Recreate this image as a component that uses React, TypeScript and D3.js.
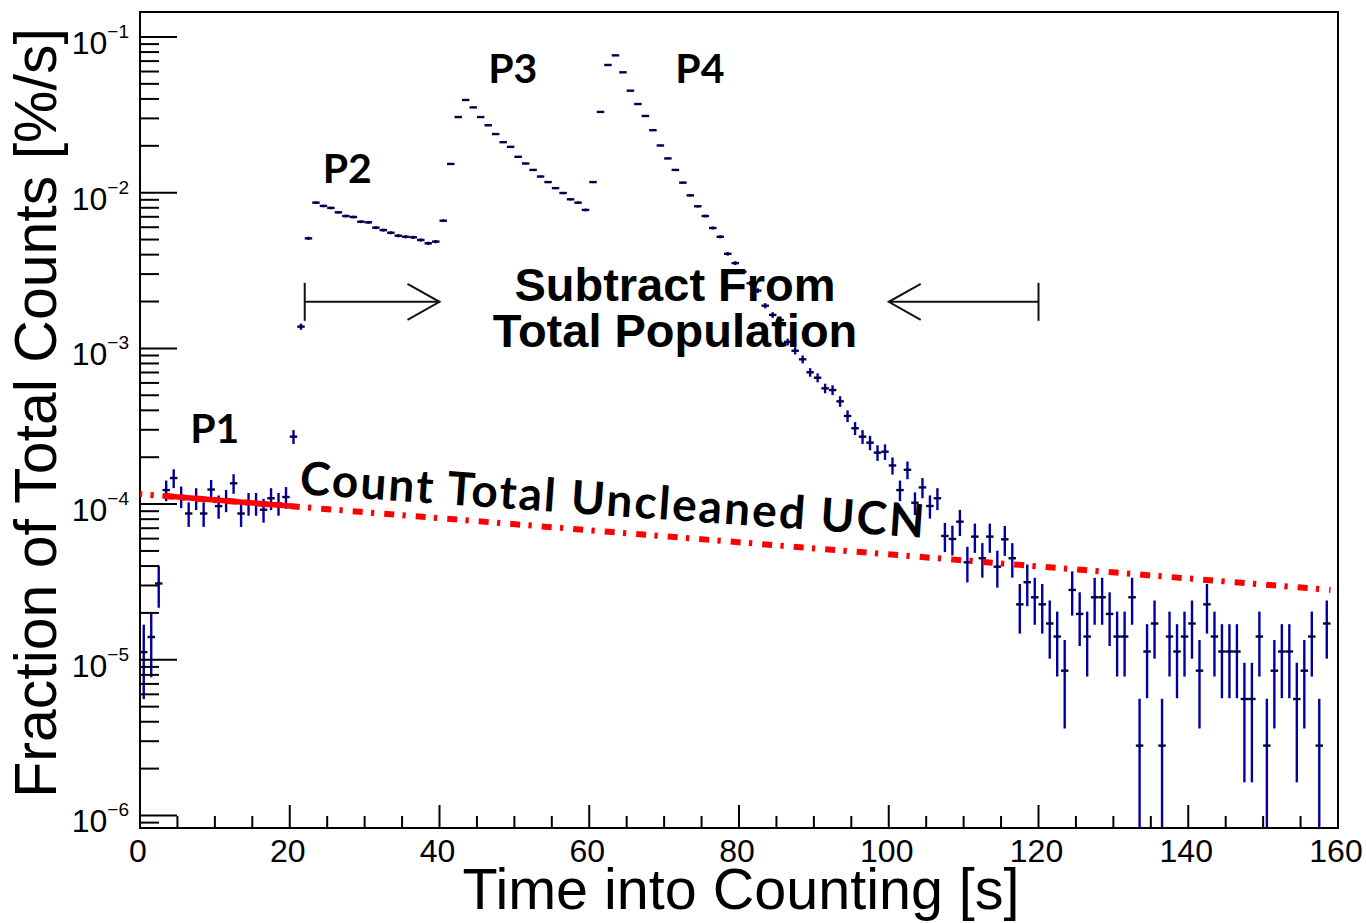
import React from 'react';
import * as d3 from 'd3';

// ---------- data ----------
// Fraction of total counts [%/s] in 1-s bins, bin k covers [k, k+1) s; null = empty bin
const RATE: (number | null)[] = [
  1.12e-5, 1.40e-5, 3.09e-5, 1.23e-4, 1.47e-4, 1.12e-4, 8.7e-5, 1.09e-4, 8.7e-5, 1.24e-4,
  9.7e-5, 1.06e-4, 1.36e-4, 8.7e-5, 1.01e-4, 1.01e-4, 9.2e-5, 1.09e-4, 1.01e-4, 1.11e-4,
  2.71e-4, 1.38e-3, 5.09e-3, 8.63e-3, 8.22e-3, 7.98e-3, 7.48e-3, 7.08e-3, 6.98e-3, 6.51e-3,
  6.45e-3, 5.96e-3, 5.75e-3, 5.53e-3, 5.29e-3, 5.21e-3, 5.17e-3, 4.97e-3, 4.73e-3, 4.85e-3,
  6.61e-3, 1.53e-2, 3.06e-2, 3.94e-2, 3.53e-2, 3.06e-2, 2.71e-2, 2.38e-2, 2.11e-2, 1.97e-2,
  1.70e-2, 1.54e-2, 1.40e-2, 1.27e-2, 1.17e-2, 1.07e-2, 9.95e-3, 9.07e-3, 8.63e-3, 7.75e-3,
  1.17e-2, 3.30e-2, 6.61e-2, 7.62e-2, 5.93e-2, 4.52e-2, 3.71e-2, 3.11e-2, 2.52e-2, 2.01e-2,
  1.66e-2, 1.40e-2, 1.16e-2, 9.61e-3, 8.18e-3, 7.08e-3, 5.93e-3, 5.21e-3, 4.05e-3, 3.53e-3,
  3.11e-3, 2.62e-3, 2.35e-3, 1.88e-3, 1.64e-3, 1.52e-3, 1.10e-3, 9.66e-4, 8.51e-4, 7.02e-4,
  6.48e-4, 5.54e-4, 5.40e-4, 4.57e-4, 3.68e-4, 3.07e-4, 2.71e-4, 2.48e-4, 2.14e-4, 2.17e-4,
  1.77e-4, 1.23e-4, 1.66e-4, 1.02e-4, 1.28e-4, 9.72e-5, 1.09e-4, 6.24e-5, 5.97e-5, 7.71e-5,
  4.23e-5, 6.18e-5, 4.49e-5, 6.18e-5, 3.96e-5, 5.94e-5, 4.49e-5, 2.27e-5, 3.15e-5, 2.52e-5,
  2.27e-5, 1.71e-5, 1.41e-5, 8.51e-6, 2.81e-5, 1.97e-5, 1.41e-5, 2.52e-5, 2.52e-5, 1.97e-5,
  1.41e-5, 1.41e-5, 2.52e-5, 2.81e-6, 1.13e-5, 1.71e-5, 2.81e-6, 1.41e-5, 1.13e-5, 1.41e-5,
  1.71e-5, 8.51e-6, 2.27e-5, 1.41e-5, 1.13e-5, 1.13e-5, 1.13e-5, 5.6e-6, 5.6e-6, 1.41e-5,
  2.81e-6, 8.51e-6, 1.13e-5, 1.13e-5, 5.6e-6, 8.51e-6, 1.41e-5, 2.81e-6, 1.71e-5, null,
];
const BIN_WIDTH = 1; // s
const COUNT_UNIT = 2.81e-6; // value of a single count -> Poisson errors

const X_MAJOR = [0, 20, 40, 60, 80, 100, 120, 140, 160];
const X_MINOR_STEP = 5;
const Y_EXPONENTS = [-1, -2, -3, -4, -5, -6];
const X_DOMAIN: [number, number] = [0, 160];
const Y_DOMAIN: [number, number] = [8.31e-7, 0.1447];

// uncleaned-UCN estimate (red): dashed extrapolation and solid fitted part
const FIT_T = [0, 159];
const FIT_V = [1.16e-4, 2.81e-5];
const FIT_SOLID_T = [3, 20];
const FIT_SOLID_V = [1.13e-4, 9.71e-5];

// "subtract" arrows: from bar (t0) to tip (t1), at value v
const ARROWS = [
  { t0: 22, t1: 40, v: 1.99e-3 },
  { t0: 120, t1: 100, v: 1.99e-3 },
];
const PEAK_LABELS = [
  { text: 'P1', t: 6.7, v: 2.47e-4 },
  { text: 'P2', t: 24.4, v: 1.153e-2 },
  { text: 'P3', t: 46.5, v: 5.07e-2 },
  { text: 'P4', t: 71.5, v: 5.07e-2 },
];

const W = 1366;
const H = 923;
const M = { left: 140, right: 1338, top: 12, bottom: 828 };

export default function App() {
  const x = d3.scaleLinear().domain(X_DOMAIN).range([M.left, M.right]);
  const y = d3.scaleLog().domain(Y_DOMAIN).range([M.bottom, M.top]);

  const pts = RATE.map((v, k) =>
    v == null ? null : { t: k * BIN_WIDTH + BIN_WIDTH / 2, v, e: Math.sqrt(v * COUNT_UNIT) }
  ).filter((d): d is { t: number; v: number; e: number } => d !== null);

  const yMinor: number[] = [];
  for (let d = -7; d <= 0; d++) {
    for (let m = 2; m <= 9; m++) {
      const v = m * Math.pow(10, d);
      if (v >= Y_DOMAIN[0] && v <= Y_DOMAIN[1]) yMinor.push(v);
    }
  }
  const xMinor = d3.range(X_DOMAIN[0], X_DOMAIN[1] + 0.001, X_MINOR_STEP).filter((t) => t % 20 !== 0);

  const line = d3.line<[number, number]>().x((d) => x(d[0])).y((d) => y(d[1]));
  const fitPath = line(FIT_T.map((t, i) => [t, FIT_V[i]]) as [number, number][]) || '';
  const fitSolidPath = line(FIT_SOLID_T.map((t, i) => [t, FIT_SOLID_V[i]]) as [number, number][]) || '';

  const yClamp = (v: number) => (v <= Y_DOMAIN[0] ? M.bottom : y(v));

  return (
    <svg
      width={W}
      height={H}
      style={{ position: 'absolute', left: 0, top: 0, background: '#fff' }}
      fontFamily="'Liberation Sans', Arial, Helvetica, sans-serif"
    >
      <defs>
        <clipPath id="plot">
          <rect x={M.left} y={M.top} width={M.right - M.left} height={M.bottom - M.top} />
        </clipPath>
      </defs>
      <rect x={0} y={0} width={W} height={H} fill="#fff" />

      {/* data points */}
      <g clipPath="url(#plot)">
        {pts.map((d, i) => {
          const cx = x(d.t);
          const cy = y(d.v);
          const lo = yClamp(d.v - d.e);
          const hi = y(d.v + d.e);
          return (
            <g key={i}>
              <line x1={cx} x2={cx} y1={hi} y2={lo} stroke="#0000a0" strokeWidth={2.4} />
              <line
                x1={x(d.t - BIN_WIDTH / 2)}
                x2={x(d.t + BIN_WIDTH / 2)}
                y1={cy}
                y2={cy}
                stroke="#00004a"
                strokeWidth={2.4}
              />
            </g>
          );
        })}
      </g>

      {/* frame */}
      <rect
        x={M.left}
        y={M.top}
        width={M.right - M.left}
        height={M.bottom - M.top}
        fill="none"
        stroke="#000"
        strokeWidth={2}
      />

      {/* x ticks */}
      {X_MAJOR.map((t) => (
        <g key={'xm' + t}>
          <line x1={x(t)} x2={x(t)} y1={M.bottom} y2={M.bottom - 23} stroke="#000" strokeWidth={2} />
          <text x={x(t) - 2} y={862} fontSize={32} textAnchor="middle" fill="#000">
            {t}
          </text>
        </g>
      ))}
      {xMinor.map((t) => (
        <line key={'xn' + t} x1={x(t)} x2={x(t)} y1={M.bottom} y2={M.bottom - 12} stroke="#000" strokeWidth={2} />
      ))}

      {/* y ticks */}
      {Y_EXPONENTS.map((e) => {
        const v = Math.pow(10, e);
        const py = y(v);
        return (
          <g key={'ym' + e}>
            <line x1={M.left} x2={M.left + 37} y1={py} y2={py} stroke="#000" strokeWidth={2} />
            <text x={129} y={py + 17} fontSize={32} textAnchor="end" fill="#000">
              10
              <tspan fontSize={19} dy={-16}>
                {'\u2212' + Math.abs(e)}
              </tspan>
            </text>
          </g>
        );
      })}
      {yMinor.map((v, i) => (
        <line key={'yn' + i} x1={M.left} x2={M.left + 19} y1={y(v)} y2={y(v)} stroke="#000" strokeWidth={2} />
      ))}

      {/* axis titles */}
      <text x={741} y={909} fontSize={57.5} textAnchor="middle" fill="#000">
        Time into Counting [s]
      </text>
      <text transform="translate(56,413) rotate(-90)" fontSize={59} textAnchor="middle" fill="#000">
        Fraction of Total Counts [%/s]
      </text>

      {/* red uncleaned estimate */}
      <path d={fitSolidPath} stroke="#ff0000" strokeWidth={5.5} fill="none" />
      <path
        d={fitPath}
        stroke="#ff0000"
        strokeWidth={6}
        fill="none"
        strokeDasharray="10 8.3 3.3 10"
        strokeDashoffset={7.8}
      />

      {/* arrows */}
      {ARROWS.map((a, i) => {
        const x0 = x(a.t0);
        const x1 = x(a.t1);
        const py = y(a.v);
        const dir = Math.sign(x1 - x0);
        return (
          <g key={'ar' + i} stroke="#111" strokeWidth={2} fill="none">
            <line x1={x0} x2={x0} y1={py - 19} y2={py + 19} />
            <line x1={x0} x2={x1} y1={py} y2={py} />
            <polyline points={`${x1 - dir * 32},${py - 18} ${x1},${py} ${x1 - dir * 32},${py + 18}`} />
          </g>
        );
      })}

      {/* annotations */}
      {PEAK_LABELS.map((p) => (
        <text
          key={p.text}
          x={x(p.t)}
          y={y(p.v)}
          fontSize={41}
          fontWeight="bold"
          fontFamily="Lato, 'Open Sans', sans-serif"
          fill="#000"
        >
          {p.text}
        </text>
      ))}
      <text x={675} y={301} fontSize={47} fontWeight="bold" textAnchor="middle" fill="#000">
        Subtract From
      </text>
      <text x={675} y={347} fontSize={47} fontWeight="bold" textAnchor="middle" fill="#000">
        Total Population
      </text>
      <text
        x={299}
        y={494}
        transform="rotate(4,299,494)"
        fontSize={46}
        fontWeight="bold"
        fontFamily="Lato, 'Open Sans', sans-serif"
        textLength={626}
        lengthAdjust="spacing"
        fill="#000"
      >
        Count Total Uncleaned UCN
      </text>
    </svg>
  );
}
